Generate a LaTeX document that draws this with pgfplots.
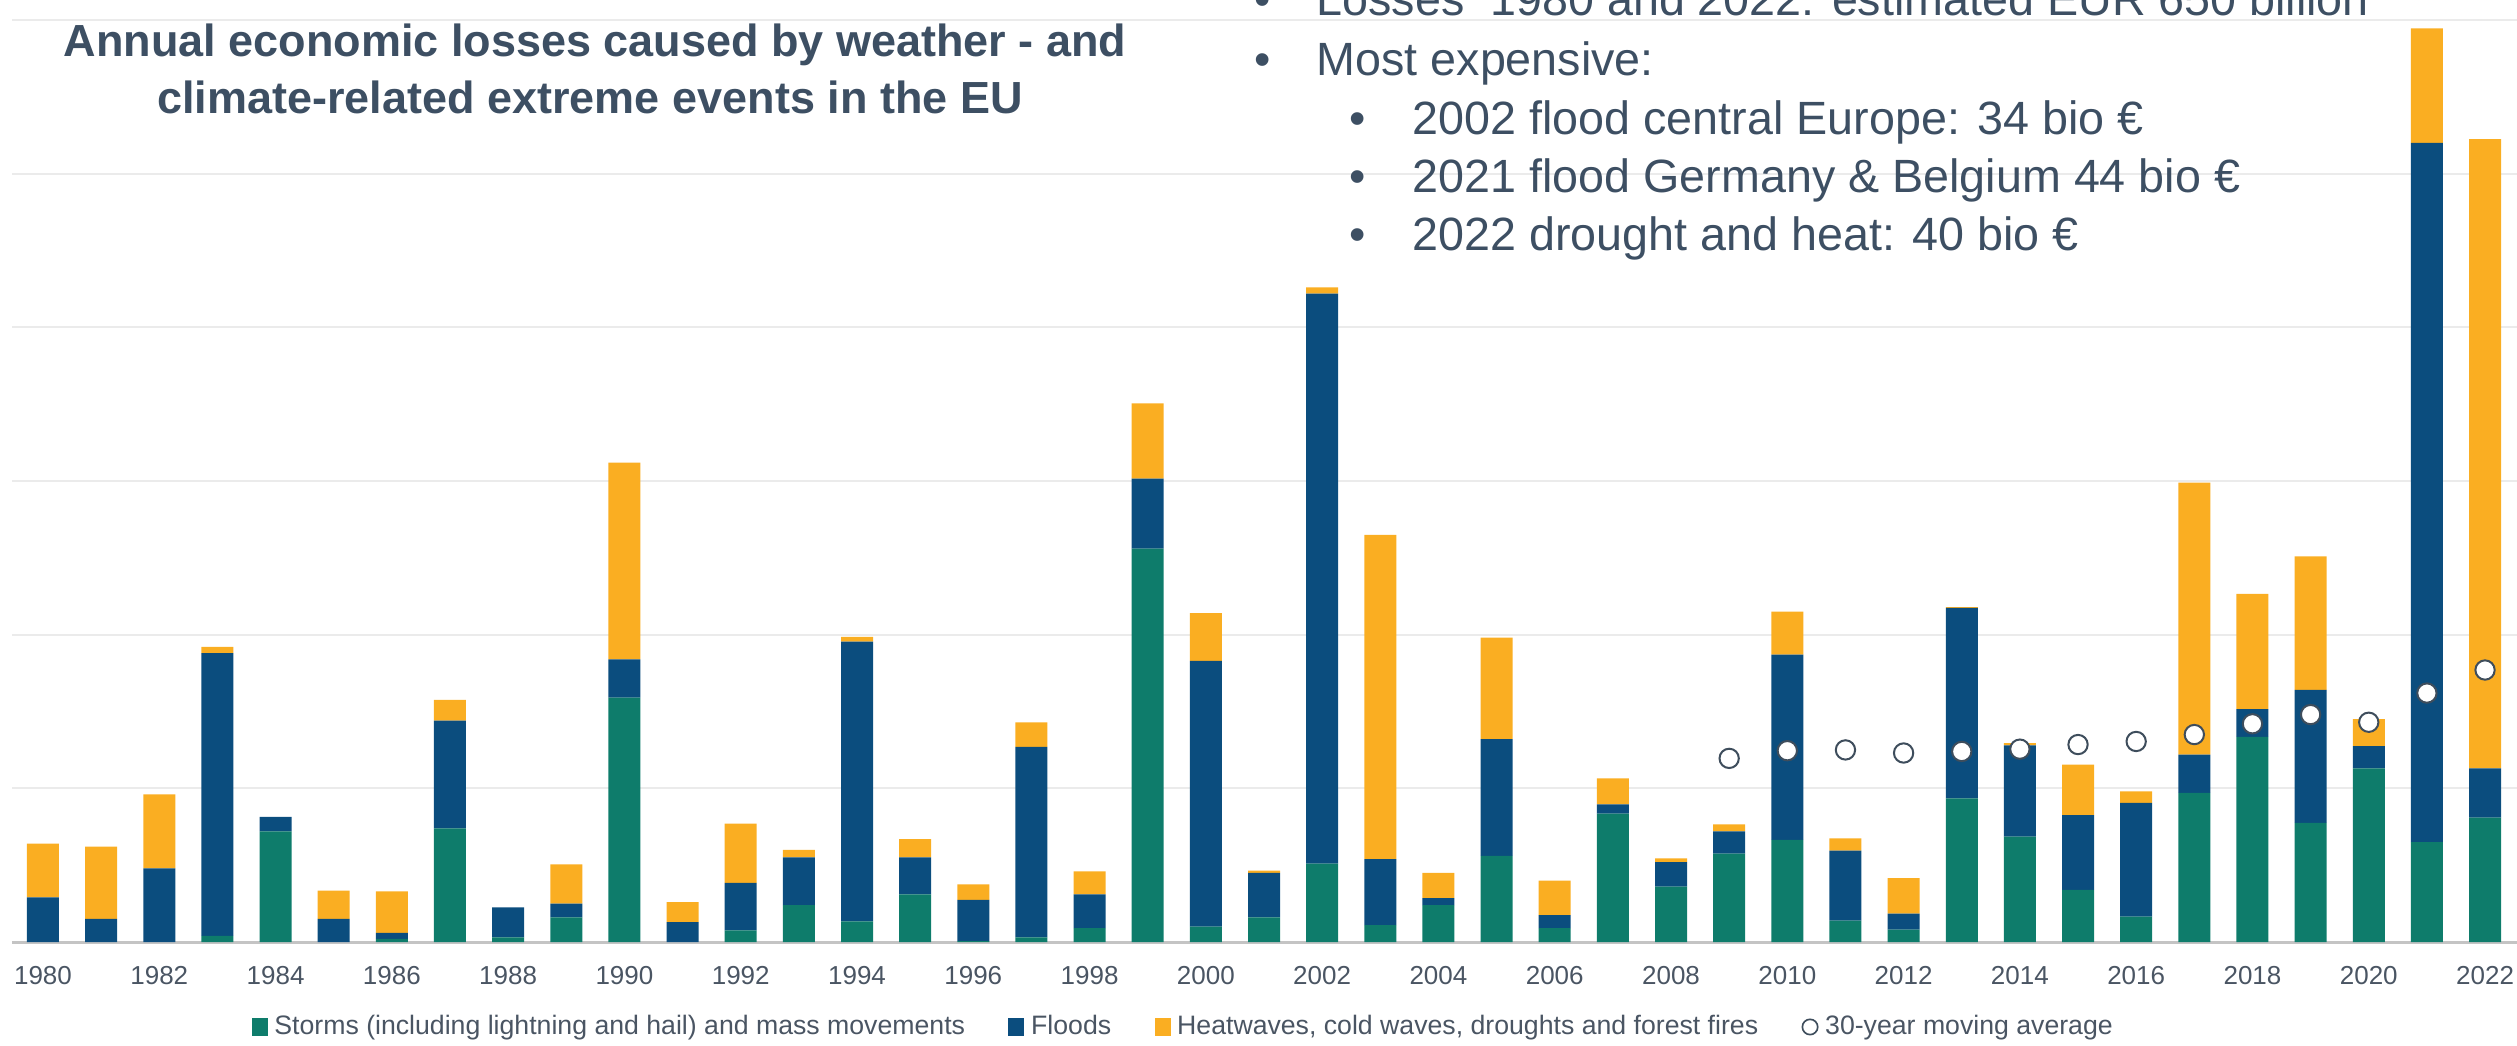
\documentclass[border=0pt]{standalone}
\usepackage{pgfplots}
\pgfplotsset{compat=1.18}
\usepackage{pgfplotstable}
\usepackage{fontspec}
\setmainfont{Liberation Sans}
\definecolor{storm}{HTML}{0E7C6B}
\definecolor{flood}{HTML}{0B4D7E}
\definecolor{heat}{HTML}{FAAE22}
\definecolor{txt}{HTML}{3D4F63}
\definecolor{ticktxt}{HTML}{4A5563}
\definecolor{gridc}{HTML}{EBEBEB}
\definecolor{basec}{HTML}{C4C4C4}
\definecolor{marko}{HTML}{3E4D5C}

\pgfplotstableread{
year storms floods heat
1980 0 2.9 3.5
1981 0 1.5 4.7
1982 0 4.8 4.8
1983 0.4 18.4 0.4
1984 7.2 0.95 0
1985 0 1.5 1.85
1986 0.2 0.4 2.7
1987 7.4 7.0 1.35
1988 0.3 1.95 0
1989 1.6 0.9 2.55
1990 15.9 2.5 12.8
1991 0 1.3 1.3
1992 0.75 3.1 3.85
1993 2.4 3.1 0.5
1994 1.35 18.2 0.3
1995 3.1 2.4 1.2
1996 0.05 2.7 1.0
1997 0.3 12.4 1.6
1998 0.9 2.2 1.5
1999 25.6 4.55 4.9
2000 1.0 17.3 3.1
2001 1.6 2.9 0.15
2002 5.1 37.1 0.4
2003 1.1 4.3 21.1
2004 2.4 0.45 1.65
2005 5.6 7.6 6.6
2006 0.9 0.85 2.25
2007 8.35 0.6 1.7
2008 3.6 1.6 0.25
2009 5.75 1.45 0.45
2010 6.65 12.05 2.8
2011 1.4 4.55 0.8
2012 0.8 1.05 2.3
2013 9.35 12.4 0.05
2014 6.85 5.95 0.15
2015 3.4 4.85 3.3
2016 1.65 7.4 0.75
2017 9.7 2.5 17.7
2018 13.35 1.8 7.5
2019 7.75 8.65 8.7
2020 11.3 1.45 1.75
2021 6.5 45.5 7.45
2022 8.1 3.2 40.95
}\losses

\pgfplotstableread{
year ma
2009 11.95
2010 12.45
2011 12.5
2012 12.3
2013 12.4
2014 12.55
2015 12.85
2016 13.05
2017 13.5
2018 14.2
2019 14.8
2020 14.3
2021 16.2
2022 17.7
}\mavg

\begin{document}
\begin{tikzpicture}
\useasboundingbox (0pt,0pt) rectangle (755.1pt,-313.5pt);
\begin{axis}[
  at={(3.6pt,-282.6pt)}, anchor=south west,
  scale only axis, width=751.5pt, height=282.6pt,
  xmin=1979.467, xmax=2022.55, ymin=0, ymax=61.3,
  ybar stacked, bar width=9.6pt,
  axis x line*=bottom, axis y line*=left,
  y axis line style={draw=none},
  x axis line style={draw=basec, line width=0.9pt},
  ytick={10,20,30,40,50,60}, yticklabels={},
  ymajorgrids, grid style={draw=gridc, line width=0.6pt},
  major tick length=0pt,
  xtick={1980,1982,...,2022},
  /pgf/number format/.cd, 1000 sep={}, assume math mode=true, /pgfplots/.cd,
  xticklabel style={font=\fontsize{7.8}{9}\selectfont, text=ticktxt, anchor=center, yshift=-10.2pt},
  clip=false,
]
\addplot[fill=storm, draw=none] table[x=year, y=storms]{\losses};
\addplot[fill=flood, draw=none] table[x=year, y=floods]{\losses};
\addplot[fill=heat, draw=none] table[x=year, y=heat]{\losses};
\end{axis}

\begin{axis}[
  at={(3.6pt,-282.6pt)}, anchor=south west,
  scale only axis, width=751.5pt, height=282.6pt,
  xmin=1979.467, xmax=2022.55, ymin=0, ymax=61.3,
  hide axis, clip=false,
  legend columns=4,
  legend cell align=left,
  legend style={at={(0.4685,-0.0902)}, anchor=center, draw=none, fill=none,
    font=\fontsize{8}{9.6}\selectfont, text=ticktxt,
    /tikz/every even column/.append style={column sep=11pt}},
]
\addlegendimage{legend image code/.code={\fill[storm] (0pt,-2.5pt) rectangle (4.4pt,2.5pt);}}
\addlegendentry{Storms (including lightning and hail) and mass movements}
\addlegendimage{legend image code/.code={\fill[flood] (0pt,-2.5pt) rectangle (4.4pt,2.5pt);}}
\addlegendentry{Floods}
\addlegendimage{legend image code/.code={\fill[heat] (0pt,-2.5pt) rectangle (4.4pt,2.5pt);}}
\addlegendentry{Heatwaves, cold waves, droughts and forest fires}
\addplot[only marks, mark=*, mark size=2.9pt, mark options={fill=white, draw=marko, line width=0.6pt},
  legend image code/.code={\draw[fill=white, draw=marko, line width=0.5pt] (2.6pt,0pt) circle (2.3pt);}]
  table[x=year, y=ma]{\mavg};
\addlegendentry{30-year moving average}
\end{axis}

\node[anchor=base, inner sep=0pt, font=\fontsize{13.5}{16}\selectfont\bfseries, text=txt] at (178.5pt,-16.95pt) {Annual economic losses caused by weather - and};
\node[anchor=base, inner sep=0pt, font=\fontsize{13.5}{16}\selectfont\bfseries, text=txt] at (177pt,-34.1pt) {climate-related extreme events in the EU};

\begin{scope}[every node/.style={inner sep=0pt, font=\fontsize{14}{16.8}\selectfont, text=txt}]
\node[anchor=base] at (378.9pt,-4.56pt) {•};
\node[anchor=base west] at (394.8pt,-4.56pt) {Losses \ 1980 and 2022: estimated EUR 650 billion};
\node[anchor=base] at (378.9pt,-22.5pt) {•};
\node[anchor=base west] at (394.8pt,-22.5pt) {Most expensive:};
\node[anchor=base] at (407.4pt,-40.35pt) {•};
\node[anchor=base west] at (423.6pt,-40.35pt) {2002 flood central Europe: 34 bio €};
\node[anchor=base] at (407.4pt,-57.8pt) {•};
\node[anchor=base west] at (423.6pt,-57.8pt) {2021 flood Germany \& Belgium 44 bio €};
\node[anchor=base] at (407.4pt,-75.2pt) {•};
\node[anchor=base west] at (423.6pt,-75.2pt) {2022 drought and heat: 40 bio €};
\end{scope}
\end{tikzpicture}
\end{document}
